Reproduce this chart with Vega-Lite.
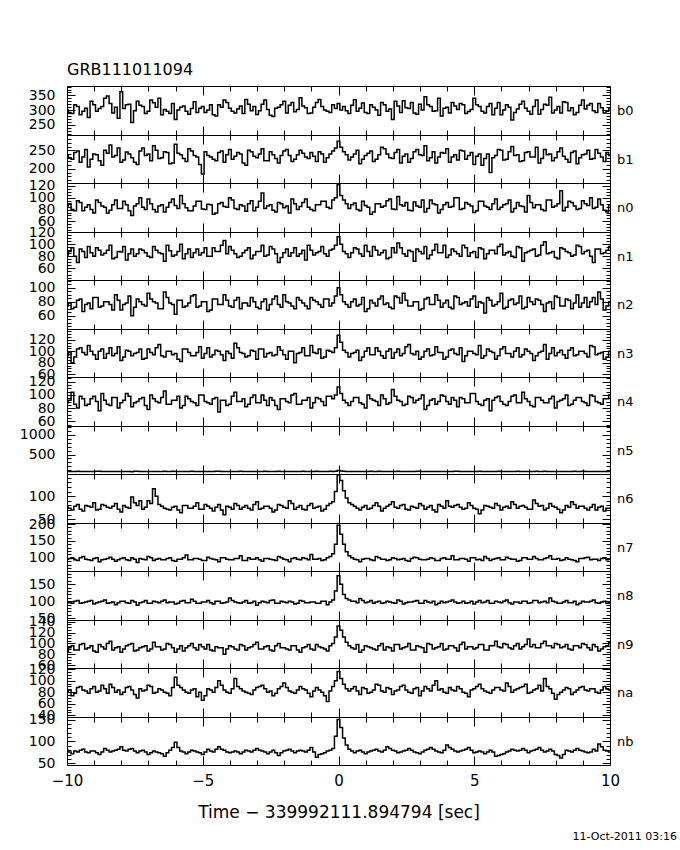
{
"$schema": "https://vega.github.io/schema/vega-lite/v6.json",
"padding": {"left": 18, "top": 61, "right": 0, "bottom": 0},
"data": {"values": [
{"t":-10,"b0":300,"b1":238,"n0":86,"n1":82,"n2":74,"n3":92,"n4":88,"n5":72,"n6":76,"n7":96,"n8":98,"n9":84,"na":80,"nb":80},
{"t":-9.8,"b0":288,"b1":226,"n0":80,"n1":94,"n2":70,"n3":80,"n4":104,"n5":70,"n6":70,"n7":100,"n8":94,"n9":96,"na":74,"nb":72},
{"t":-9.6,"b0":312,"b1":248,"n0":95,"n1":70,"n2":82,"n3":104,"n4":80,"n5":75,"n6":82,"n7":92,"n8":102,"n9":88,"na":88,"nb":76},
{"t":-9.4,"b0":296,"b1":232,"n0":78,"n1":88,"n2":66,"n3":98,"n4":94,"n5":68,"n6":68,"n7":104,"n8":96,"n9":100,"na":84,"nb":82},
{"t":-9.2,"b0":275,"b1":205,"n0":88,"n1":96,"n2":78,"n3":110,"n4":86,"n5":73,"n6":78,"n7":94,"n8":100,"n9":92,"na":78,"nb":74},
{"t":-9,"b0":318,"b1":240,"n0":74,"n1":80,"n2":86,"n3":94,"n4":98,"n5":71,"n6":86,"n7":98,"n8":92,"n9":86,"na":90,"nb":78},
{"t":-8.8,"b0":305,"b1":222,"n0":92,"n1":90,"n2":72,"n3":100,"n4":76,"n5":76,"n6":72,"n7":88,"n8":98,"n9":98,"na":82,"nb":70},
{"t":-8.6,"b0":340,"b1":250,"n0":84,"n1":85,"n2":80,"n3":88,"n4":92,"n5":69,"n6":80,"n7":96,"n8":104,"n9":90,"na":86,"nb":84},
{"t":-8.4,"b0":322,"b1":264,"n0":79,"n1":98,"n2":76,"n3":106,"n4":84,"n5":72,"n6":74,"n7":102,"n8":96,"n9":104,"na":94,"nb":76},
{"t":-8.2,"b0":310,"b1":236,"n0":96,"n1":78,"n2":90,"n3":96,"n4":96,"n5":74,"n6":84,"n7":90,"n8":90,"n9":92,"na":80,"nb":80},
{"t":-8,"b0":362,"b1":218,"n0":82,"n1":87,"n2":68,"n3":84,"n4":88,"n5":70,"n6":66,"n7":98,"n8":100,"n9":84,"na":76,"nb":88},
{"t":-7.8,"b0":318,"b1":245,"n0":88,"n1":74,"n2":78,"n3":102,"n4":102,"n5":73,"n6":76,"n7":94,"n8":96,"n9":96,"na":88,"nb":78},
{"t":-7.6,"b0":258,"b1":230,"n0":70,"n1":92,"n2":60,"n3":92,"n4":82,"n5":67,"n6":98,"n7":100,"n8":102,"n9":100,"na":84,"nb":84},
{"t":-7.4,"b0":330,"b1":212,"n0":90,"n1":84,"n2":84,"n3":98,"n4":90,"n5":75,"n6":80,"n7":86,"n8":88,"n9":88,"na":70,"nb":74},
{"t":-7.2,"b0":312,"b1":256,"n0":84,"n1":90,"n2":76,"n3":86,"n4":96,"n5":71,"n6":72,"n7":96,"n8":98,"n9":94,"na":82,"nb":80},
{"t":-7,"b0":296,"b1":240,"n0":98,"n1":80,"n2":92,"n3":104,"n4":78,"n5":72,"n6":90,"n7":104,"n8":94,"n9":86,"na":92,"nb":70},
{"t":-6.8,"b0":325,"b1":262,"n0":80,"n1":96,"n2":80,"n3":94,"n4":94,"n5":74,"n6":116,"n7":92,"n8":100,"n9":102,"na":78,"nb":78},
{"t":-6.6,"b0":340,"b1":228,"n0":86,"n1":86,"n2":70,"n3":112,"n4":88,"n5":69,"n6":82,"n7":98,"n8":96,"n9":94,"na":86,"nb":74},
{"t":-6.4,"b0":302,"b1":246,"n0":76,"n1":72,"n2":94,"n3":90,"n4":106,"n5":76,"n6":74,"n7":94,"n8":104,"n9":90,"na":80,"nb":66},
{"t":-6.2,"b0":288,"b1":214,"n0":92,"n1":89,"n2":78,"n3":100,"n4":86,"n5":70,"n6":70,"n7":100,"n8":98,"n9":98,"na":74,"nb":80},
{"t":-6,"b0":268,"b1":266,"n0":87,"n1":82,"n2":62,"n3":96,"n4":92,"n5":72,"n6":78,"n7":90,"n8":92,"n9":84,"na":106,"nb":98},
{"t":-5.8,"b0":310,"b1":238,"n0":104,"n1":100,"n2":82,"n3":82,"n4":80,"n5":73,"n6":64,"n7":96,"n8":100,"n9":96,"na":88,"nb":78},
{"t":-5.6,"b0":296,"b1":220,"n0":83,"n1":84,"n2":74,"n3":104,"n4":98,"n5":68,"n6":80,"n7":108,"n8":96,"n9":92,"na":80,"nb":72},
{"t":-5.4,"b0":305,"b1":248,"n0":78,"n1":78,"n2":88,"n3":92,"n4":90,"n5":75,"n6":74,"n7":94,"n8":106,"n9":100,"na":84,"nb":80},
{"t":-5.2,"b0":292,"b1":232,"n0":94,"n1":92,"n2":72,"n3":98,"n4":84,"n5":71,"n6":86,"n7":98,"n8":94,"n9":88,"na":72,"nb":76},
{"t":-5,"b0":312,"b1":186,"n0":81,"n1":86,"n2":80,"n3":88,"n4":100,"n5":74,"n6":72,"n7":92,"n8":98,"n9":94,"na":66,"nb":70},
{"t":-4.8,"b0":300,"b1":236,"n0":89,"n1":80,"n2":66,"n3":106,"n4":88,"n5":70,"n6":78,"n7":102,"n8":102,"n9":98,"na":86,"nb":82},
{"t":-4.6,"b0":284,"b1":226,"n0":72,"n1":94,"n2":84,"n3":94,"n4":94,"n5":72,"n6":68,"n7":96,"n8":92,"n9":86,"na":80,"nb":76},
{"t":-4.4,"b0":318,"b1":244,"n0":90,"n1":88,"n2":76,"n3":100,"n4":74,"n5":77,"n6":82,"n7":88,"n8":100,"n9":92,"na":100,"nb":88},
{"t":-4.2,"b0":334,"b1":218,"n0":85,"n1":106,"n2":90,"n3":84,"n4":92,"n5":69,"n6":60,"n7":100,"n8":96,"n9":80,"na":84,"nb":80},
{"t":-4,"b0":306,"b1":252,"n0":100,"n1":96,"n2":74,"n3":96,"n4":86,"n5":73,"n6":76,"n7":94,"n8":110,"n9":96,"na":78,"nb":74},
{"t":-3.8,"b0":290,"b1":234,"n0":82,"n1":84,"n2":82,"n3":114,"n4":104,"n5":71,"n6":84,"n7":98,"n8":98,"n9":90,"na":104,"nb":78},
{"t":-3.6,"b0":314,"b1":240,"n0":88,"n1":80,"n2":70,"n3":98,"n4":90,"n5":75,"n6":72,"n7":106,"n8":94,"n9":98,"na":86,"nb":72},
{"t":-3.4,"b0":336,"b1":210,"n0":77,"n1":90,"n2":78,"n3":90,"n4":82,"n5":68,"n6":80,"n7":92,"n8":102,"n9":88,"na":80,"nb":80},
{"t":-3.2,"b0":298,"b1":246,"n0":95,"n1":76,"n2":86,"n3":102,"n4":96,"n5":72,"n6":70,"n7":96,"n8":96,"n9":94,"na":76,"nb":76},
{"t":-3,"b0":285,"b1":230,"n0":84,"n1":88,"n2":72,"n3":86,"n4":88,"n5":74,"n6":88,"n7":100,"n8":88,"n9":102,"na":88,"nb":84},
{"t":-2.8,"b0":320,"b1":254,"n0":108,"n1":98,"n2":80,"n3":104,"n4":100,"n5":70,"n6":74,"n7":90,"n8":100,"n9":90,"na":92,"nb":78},
{"t":-2.6,"b0":302,"b1":222,"n0":86,"n1":82,"n2":68,"n3":96,"n4":84,"n5":73,"n6":78,"n7":98,"n8":96,"n9":96,"na":80,"nb":72},
{"t":-2.4,"b0":278,"b1":238,"n0":79,"n1":92,"n2":84,"n3":92,"n4":92,"n5":71,"n6":66,"n7":94,"n8":104,"n9":86,"na":74,"nb":80},
{"t":-2.2,"b0":310,"b1":216,"n0":92,"n1":70,"n2":76,"n3":108,"n4":78,"n5":76,"n6":82,"n7":104,"n8":94,"n9":100,"na":86,"nb":68},
{"t":-2,"b0":330,"b1":248,"n0":83,"n1":86,"n2":90,"n3":94,"n4":94,"n5":69,"n6":76,"n7":96,"n8":98,"n9":92,"na":96,"nb":78},
{"t":-1.8,"b0":316,"b1":236,"n0":74,"n1":80,"n2":78,"n3":100,"n4":88,"n5":72,"n6":90,"n7":88,"n8":100,"n9":88,"na":82,"nb":82},
{"t":-1.6,"b0":294,"b1":226,"n0":90,"n1":94,"n2":70,"n3":80,"n4":102,"n5":74,"n6":72,"n7":100,"n8":92,"n9":96,"na":78,"nb":74},
{"t":-1.4,"b0":342,"b1":250,"n0":85,"n1":84,"n2":82,"n3":98,"n4":86,"n5":70,"n6":80,"n7":94,"n8":102,"n9":84,"na":90,"nb":80},
{"t":-1.2,"b0":308,"b1":232,"n0":98,"n1":74,"n2":74,"n3":92,"n4":92,"n5":73,"n6":70,"n7":98,"n8":96,"n9":94,"na":84,"nb":76},
{"t":-1,"b0":290,"b1":244,"n0":80,"n1":90,"n2":86,"n3":110,"n4":80,"n5":68,"n6":84,"n7":110,"n8":98,"n9":90,"na":72,"nb":86},
{"t":-0.8,"b0":326,"b1":220,"n0":88,"n1":86,"n2":80,"n3":96,"n4":96,"n5":75,"n6":76,"n7":96,"n8":94,"n9":98,"na":88,"nb":64},
{"t":-0.6,"b0":312,"b1":240,"n0":94,"n1":96,"n2":72,"n3":88,"n4":90,"n5":71,"n6":68,"n7":92,"n8":100,"n9":92,"na":80,"nb":72},
{"t":-0.4,"b0":296,"b1":230,"n0":84,"n1":80,"n2":84,"n3":102,"n4":98,"n5":72,"n6":80,"n7":100,"n8":90,"n9":86,"na":64,"nb":78},
{"t":-0.2,"b0":318,"b1":248,"n0":96,"n1":92,"n2":78,"n3":98,"n4":94,"n5":74,"n6":88,"n7":112,"n8":104,"n9":100,"na":90,"nb":84},
{"t":-0.1,"b0":305,"b1":256,"n0":100,"n1":98,"n2":88,"n3":106,"n4":100,"n5":78,"n6":110,"n7":140,"n8":130,"n9":112,"na":100,"nb":112},
{"t":0,"b0":322,"b1":274,"n0":122,"n1":112,"n2":100,"n3":128,"n4":112,"n5":96,"n6":146,"n7":196,"n8":175,"n9":132,"na":116,"nb":150},
{"t":0.1,"b0":300,"b1":258,"n0":104,"n1":100,"n2":90,"n3":116,"n4":102,"n5":84,"n6":134,"n7":170,"n8":150,"n9":124,"na":104,"nb":132},
{"t":0.2,"b0":312,"b1":246,"n0":96,"n1":88,"n2":80,"n3":102,"n4":92,"n5":78,"n6":112,"n7":140,"n8":120,"n9":112,"na":94,"nb":108},
{"t":0.3,"b0":298,"b1":238,"n0":90,"n1":84,"n2":76,"n3":98,"n4":88,"n5":74,"n6":96,"n7":118,"n8":108,"n9":102,"na":86,"nb":92},
{"t":0.4,"b0":288,"b1":224,"n0":82,"n1":78,"n2":72,"n3":90,"n4":84,"n5":74,"n6":86,"n7":106,"n8":104,"n9":96,"na":82,"nb":82},
{"t":0.6,"b0":335,"b1":240,"n0":91,"n1":94,"n2":84,"n3":98,"n4":96,"n5":71,"n6":78,"n7":96,"n8":100,"n9":90,"na":90,"nb":74},
{"t":0.8,"b0":306,"b1":214,"n0":78,"n1":84,"n2":76,"n3":84,"n4":88,"n5":73,"n6":70,"n7":88,"n8":108,"n9":84,"na":76,"nb":80},
{"t":1,"b0":292,"b1":236,"n0":87,"n1":98,"n2":66,"n3":100,"n4":80,"n5":69,"n6":80,"n7":98,"n8":96,"n9":96,"na":86,"nb":72},
{"t":1.2,"b0":318,"b1":248,"n0":72,"n1":80,"n2":82,"n3":94,"n4":94,"n5":75,"n6":74,"n7":94,"n8":102,"n9":92,"na":80,"nb":78},
{"t":1.4,"b0":300,"b1":226,"n0":90,"n1":90,"n2":74,"n3":106,"n4":90,"n5":72,"n6":86,"n7":104,"n8":98,"n9":88,"na":94,"nb":82},
{"t":1.6,"b0":326,"b1":258,"n0":84,"n1":86,"n2":88,"n3":92,"n4":100,"n5":70,"n6":68,"n7":96,"n8":94,"n9":100,"na":82,"nb":76},
{"t":1.8,"b0":296,"b1":240,"n0":95,"n1":76,"n2":78,"n3":100,"n4":86,"n5":74,"n6":78,"n7":92,"n8":100,"n9":94,"na":88,"nb":88},
{"t":2,"b0":268,"b1":228,"n0":81,"n1":94,"n2":70,"n3":88,"n4":108,"n5":71,"n6":88,"n7":100,"n8":96,"n9":86,"na":76,"nb":80},
{"t":2.2,"b0":314,"b1":252,"n0":102,"n1":102,"n2":86,"n3":104,"n4":92,"n5":76,"n6":74,"n7":94,"n8":104,"n9":98,"na":84,"nb":74},
{"t":2.4,"b0":332,"b1":234,"n0":86,"n1":84,"n2":92,"n3":96,"n4":84,"n5":68,"n6":82,"n7":98,"n8":92,"n9":92,"na":92,"nb":78},
{"t":2.6,"b0":305,"b1":218,"n0":79,"n1":90,"n2":74,"n3":112,"n4":98,"n5":73,"n6":70,"n7":90,"n8":98,"n9":100,"na":80,"nb":84},
{"t":2.8,"b0":290,"b1":246,"n0":93,"n1":72,"n2":80,"n3":94,"n4":88,"n5":72,"n6":76,"n7":102,"n8":100,"n9":88,"na":86,"nb":76},
{"t":3,"b0":320,"b1":238,"n0":84,"n1":88,"n2":68,"n3":86,"n4":94,"n5":75,"n6":84,"n7":96,"n8":94,"n9":94,"na":74,"nb":72},
{"t":3.2,"b0":345,"b1":262,"n0":76,"n1":96,"n2":84,"n3":100,"n4":78,"n5":70,"n6":72,"n7":94,"n8":102,"n9":84,"na":90,"nb":80},
{"t":3.4,"b0":312,"b1":230,"n0":96,"n1":82,"n2":76,"n3":92,"n4":92,"n5":73,"n6":80,"n7":100,"n8":96,"n9":98,"na":82,"nb":86},
{"t":3.6,"b0":298,"b1":216,"n0":88,"n1":100,"n2":90,"n3":108,"n4":86,"n5":71,"n6":66,"n7":92,"n8":90,"n9":92,"na":100,"nb":78},
{"t":3.8,"b0":280,"b1":244,"n0":80,"n1":86,"n2":72,"n3":98,"n4":100,"n5":74,"n6":78,"n7":98,"n8":100,"n9":100,"na":86,"nb":74},
{"t":4,"b0":310,"b1":254,"n0":92,"n1":78,"n2":82,"n3":90,"n4":90,"n5":69,"n6":90,"n7":96,"n8":98,"n9":90,"na":78,"nb":92},
{"t":4.2,"b0":326,"b1":232,"n0":85,"n1":92,"n2":70,"n3":104,"n4":96,"n5":72,"n6":76,"n7":106,"n8":104,"n9":96,"na":84,"nb":82},
{"t":4.4,"b0":302,"b1":224,"n0":100,"n1":84,"n2":86,"n3":94,"n4":82,"n5":76,"n6":82,"n7":94,"n8":94,"n9":86,"na":90,"nb":76},
{"t":4.6,"b0":318,"b1":248,"n0":82,"n1":98,"n2":78,"n3":82,"n4":94,"n5":70,"n6":72,"n7":98,"n8":100,"n9":102,"na":80,"nb":80},
{"t":4.8,"b0":295,"b1":236,"n0":89,"n1":80,"n2":74,"n3":100,"n4":88,"n5":73,"n6":86,"n7":90,"n8":96,"n9":94,"na":72,"nb":86},
{"t":5,"b0":340,"b1":212,"n0":75,"n1":88,"n2":88,"n3":96,"n4":102,"n5":71,"n6":74,"n7":100,"n8":92,"n9":90,"na":86,"nb":74},
{"t":5.2,"b0":312,"b1":240,"n0":94,"n1":94,"n2":80,"n3":110,"n4":86,"n5":75,"n6":62,"n7":96,"n8":102,"n9":98,"na":94,"nb":78},
{"t":5.4,"b0":290,"b1":228,"n0":86,"n1":76,"n2":64,"n3":92,"n4":92,"n5":68,"n6":80,"n7":104,"n8":98,"n9":88,"na":82,"nb":72},
{"t":5.6,"b0":322,"b1":190,"n0":80,"n1":90,"n2":82,"n3":100,"n4":76,"n5":72,"n6":76,"n7":92,"n8":94,"n9":96,"na":78,"nb":80},
{"t":5.8,"b0":306,"b1":236,"n0":98,"n1":84,"n2":76,"n3":86,"n4":96,"n5":74,"n6":84,"n7":98,"n8":100,"n9":104,"na":88,"nb":66},
{"t":6,"b0":284,"b1":250,"n0":84,"n1":100,"n2":92,"n3":104,"n4":90,"n5":70,"n6":70,"n7":94,"n8":96,"n9":92,"na":84,"nb":70},
{"t":6.2,"b0":318,"b1":226,"n0":90,"n1":86,"n2":72,"n3":96,"n4":84,"n5":73,"n6":78,"n7":102,"n8":104,"n9":98,"na":96,"nb":76},
{"t":6.4,"b0":266,"b1":260,"n0":76,"n1":80,"n2":84,"n3":90,"n4":98,"n5":71,"n6":88,"n7":96,"n8":92,"n9":90,"na":80,"nb":82},
{"t":6.6,"b0":304,"b1":238,"n0":92,"n1":96,"n2":78,"n3":106,"n4":88,"n5":75,"n6":74,"n7":90,"n8":98,"n9":100,"na":86,"nb":78},
{"t":6.8,"b0":330,"b1":222,"n0":85,"n1":72,"n2":70,"n3":94,"n4":104,"n5":69,"n6":80,"n7":100,"n8":100,"n9":94,"na":90,"nb":84},
{"t":7,"b0":296,"b1":246,"n0":104,"n1":88,"n2":86,"n3":100,"n4":90,"n5":72,"n6":72,"n7":96,"n8":94,"n9":108,"na":78,"nb":74},
{"t":7.2,"b0":312,"b1":232,"n0":83,"n1":92,"n2":76,"n3":84,"n4":82,"n5":74,"n6":92,"n7":104,"n8":102,"n9":98,"na":84,"nb":80},
{"t":7.4,"b0":286,"b1":216,"n0":88,"n1":82,"n2":82,"n3":98,"n4":96,"n5":70,"n6":78,"n7":94,"n8":96,"n9":92,"na":92,"nb":86},
{"t":7.6,"b0":320,"b1":252,"n0":78,"n1":104,"n2":66,"n3":112,"n4":88,"n5":76,"n6":70,"n7":98,"n8":100,"n9":104,"na":104,"nb":76},
{"t":7.8,"b0":344,"b1":240,"n0":96,"n1":86,"n2":80,"n3":96,"n4":94,"n5":71,"n6":84,"n7":106,"n8":110,"n9":96,"na":86,"nb":82},
{"t":8,"b0":300,"b1":230,"n0":86,"n1":78,"n2":88,"n3":92,"n4":80,"n5":73,"n6":76,"n7":96,"n8":98,"n9":100,"na":68,"nb":70},
{"t":8.2,"b0":290,"b1":256,"n0":112,"n1":94,"n2":74,"n3":102,"n4":92,"n5":69,"n6":64,"n7":92,"n8":94,"n9":92,"na":80,"nb":62},
{"t":8.4,"b0":326,"b1":226,"n0":84,"n1":88,"n2":84,"n3":88,"n4":100,"n5":74,"n6":80,"n7":100,"n8":102,"n9":98,"na":88,"nb":80},
{"t":8.6,"b0":308,"b1":244,"n0":92,"n1":80,"n2":70,"n3":106,"n4":86,"n5":72,"n6":88,"n7":94,"n8":96,"n9":88,"na":76,"nb":76},
{"t":8.8,"b0":292,"b1":214,"n0":80,"n1":98,"n2":90,"n3":94,"n4":96,"n5":70,"n6":74,"n7":88,"n8":90,"n9":96,"na":84,"nb":84},
{"t":9,"b0":334,"b1":238,"n0":95,"n1":84,"n2":78,"n3":100,"n4":90,"n5":75,"n6":78,"n7":98,"n8":100,"n9":100,"na":90,"nb":78},
{"t":9.2,"b0":316,"b1":250,"n0":87,"n1":90,"n2":72,"n3":90,"n4":84,"n5":71,"n6":70,"n7":102,"n8":98,"n9":92,"na":82,"nb":74},
{"t":9.4,"b0":298,"b1":228,"n0":82,"n1":70,"n2":86,"n3":108,"n4":98,"n5":73,"n6":82,"n7":96,"n8":104,"n9":98,"na":86,"nb":82},
{"t":9.6,"b0":322,"b1":242,"n0":98,"n1":92,"n2":94,"n3":96,"n4":88,"n5":68,"n6":76,"n7":92,"n8":94,"n9":86,"na":78,"nb":94},
{"t":9.8,"b0":290,"b1":220,"n0":79,"n1":86,"n2":68,"n3":86,"n4":94,"n5":74,"n6":68,"n7":100,"n8":100,"n9":94,"na":90,"nb":80},
{"t":10,"b0":305,"b1":236,"n0":88,"n1":96,"n2":80,"n3":100,"n4":100,"n5":72,"n6":74,"n7":96,"n8":96,"n9":102,"na":84,"nb":76},
{"t":-9.9,"b0":292,"b1":230,"n0":90,"n1":88,"n2":78,"n3":98,"n4":92,"n5":71,"n6":74,"n7":98,"n8":96,"n9":92,"na":84,"nb":76},
{"t":-9.7,"b0":318,"b1":244,"n0":78,"n1":80,"n2":72,"n3":90,"n4":86,"n5":74,"n6":78,"n7":94,"n8":100,"n9":88,"na":78,"nb":78},
{"t":-9.5,"b0":284,"b1":218,"n0":92,"n1":92,"n2":84,"n3":106,"n4":98,"n5":69,"n6":72,"n7":100,"n8":94,"n9":98,"na":90,"nb":80},
{"t":-9.3,"b0":306,"b1":252,"n0":84,"n1":78,"n2":76,"n3":94,"n4":84,"n5":73,"n6":80,"n7":96,"n8":98,"n9":90,"na":82,"nb":76},
{"t":-9.1,"b0":330,"b1":226,"n0":80,"n1":86,"n2":70,"n3":100,"n4":94,"n5":72,"n6":76,"n7":92,"n8":102,"n9":96,"na":86,"nb":78},
{"t":-8.9,"b0":296,"b1":238,"n0":96,"n1":94,"n2":86,"n3":86,"n4":90,"n5":75,"n6":70,"n7":100,"n8":96,"n9":84,"na":80,"nb":74},
{"t":-8.7,"b0":312,"b1":210,"n0":86,"n1":82,"n2":74,"n3":104,"n4":102,"n5":70,"n6":82,"n7":94,"n8":100,"n9":94,"na":92,"nb":76},
{"t":-8.5,"b0":348,"b1":242,"n0":74,"n1":90,"n2":80,"n3":96,"n4":86,"n5":72,"n6":76,"n7":98,"n8":94,"n9":100,"na":78,"nb":80},
{"t":-8.3,"b0":290,"b1":232,"n0":88,"n1":76,"n2":68,"n3":92,"n4":96,"n5":74,"n6":78,"n7":96,"n8":98,"n9":88,"na":88,"nb":78},
{"t":-8.1,"b0":272,"b1":256,"n0":82,"n1":88,"n2":82,"n3":108,"n4":80,"n5":68,"n6":72,"n7":94,"n8":96,"n9":94,"na":84,"nb":82},
{"t":-7.9,"b0":305,"b1":224,"n0":94,"n1":96,"n2":76,"n3":90,"n4":92,"n5":73,"n6":80,"n7":100,"n8":100,"n9":90,"na":80,"nb":80},
{"t":-7.7,"b0":320,"b1":240,"n0":78,"n1":84,"n2":88,"n3":100,"n4":98,"n5":71,"n6":74,"n7":92,"n8":94,"n9":98,"na":90,"nb":82},
{"t":-7.5,"b0":298,"b1":218,"n0":86,"n1":80,"n2":72,"n3":96,"n4":88,"n5":75,"n6":86,"n7":96,"n8":98,"n9":86,"na":76,"nb":78},
{"t":-7.3,"b0":316,"b1":248,"n0":100,"n1":92,"n2":80,"n3":104,"n4":94,"n5":70,"n6":90,"n7":98,"n8":96,"n9":92,"na":86,"nb":78},
{"t":-7.1,"b0":288,"b1":236,"n0":80,"n1":86,"n2":74,"n3":88,"n4":84,"n5":72,"n6":76,"n7":94,"n8":102,"n9":96,"na":84,"nb":76},
{"t":-6.9,"b0":334,"b1":222,"n0":90,"n1":78,"n2":84,"n3":98,"n4":100,"n5":74,"n6":84,"n7":100,"n8":94,"n9":90,"na":90,"nb":74},
{"t":-6.7,"b0":310,"b1":250,"n0":76,"n1":90,"n2":78,"n3":106,"n4":90,"n5":69,"n6":100,"n7":96,"n8":98,"n9":94,"na":80,"nb":76},
{"t":-6.5,"b0":284,"b1":230,"n0":88,"n1":84,"n2":70,"n3":92,"n4":96,"n5":73,"n6":78,"n7":94,"n8":100,"n9":88,"na":84,"nb":72},
{"t":-6.3,"b0":296,"b1":244,"n0":84,"n1":98,"n2":86,"n3":100,"n4":86,"n5":71,"n6":72,"n7":98,"n8":96,"n9":100,"na":78,"nb":74},
{"t":-6.1,"b0":322,"b1":216,"n0":98,"n1":80,"n2":76,"n3":94,"n4":92,"n5":75,"n6":76,"n7":92,"n8":98,"n9":92,"na":88,"nb":86},
{"t":-5.9,"b0":300,"b1":242,"n0":82,"n1":88,"n2":82,"n3":86,"n4":98,"n5":70,"n6":70,"n7":96,"n8":94,"n9":90,"na":92,"nb":86},
{"t":-5.7,"b0":314,"b1":228,"n0":90,"n1":76,"n2":72,"n3":104,"n4":84,"n5":72,"n6":80,"n7":100,"n8":102,"n9":86,"na":84,"nb":76},
{"t":-5.5,"b0":286,"b1":254,"n0":78,"n1":92,"n2":78,"n3":98,"n4":94,"n5":74,"n6":74,"n7":94,"n8":96,"n9":96,"na":78,"nb":76},
{"t":-5.3,"b0":328,"b1":236,"n0":86,"n1":86,"n2":90,"n3":92,"n4":88,"n5":69,"n6":78,"n7":98,"n8":100,"n9":92,"na":86,"nb":78},
{"t":-5.1,"b0":306,"b1":212,"n0":94,"n1":82,"n2":74,"n3":108,"n4":100,"n5":73,"n6":72,"n7":96,"n8":94,"n9":98,"na":80,"nb":74},
{"t":-4.9,"b0":292,"b1":246,"n0":80,"n1":94,"n2":80,"n3":96,"n4":90,"n5":71,"n6":82,"n7":92,"n8":98,"n9":90,"na":74,"nb":76},
{"t":-4.7,"b0":318,"b1":232,"n0":88,"n1":80,"n2":68,"n3":90,"n4":86,"n5":72,"n6":74,"n7":98,"n8":96,"n9":88,"na":84,"nb":78},
{"t":-4.5,"b0":280,"b1":222,"n0":74,"n1":88,"n2":84,"n3":102,"n4":96,"n5":75,"n6":76,"n7":94,"n8":100,"n9":94,"na":88,"nb":82},
{"t":-4.3,"b0":310,"b1":248,"n0":92,"n1":98,"n2":76,"n3":94,"n4":92,"n5":70,"n6":70,"n7":100,"n8":94,"n9":92,"na":92,"nb":82},
{"t":-4.1,"b0":326,"b1":238,"n0":84,"n1":84,"n2":82,"n3":100,"n4":84,"n5":73,"n6":78,"n7":96,"n8":98,"n9":90,"na":80,"nb":76},
{"t":-3.9,"b0":296,"b1":226,"n0":96,"n1":90,"n2":72,"n3":88,"n4":98,"n5":72,"n6":72,"n7":94,"n8":102,"n9":94,"na":86,"nb":76},
{"t":-3.7,"b0":304,"b1":244,"n0":80,"n1":78,"n2":86,"n3":106,"n4":90,"n5":69,"n6":80,"n7":98,"n8":96,"n9":88,"na":90,"nb":76},
{"t":-3.5,"b0":288,"b1":216,"n0":86,"n1":86,"n2":78,"n3":96,"n4":94,"n5":74,"n6":76,"n7":92,"n8":98,"n9":96,"na":82,"nb":76},
{"t":-3.3,"b0":320,"b1":250,"n0":90,"n1":94,"n2":74,"n3":92,"n4":86,"n5":71,"n6":74,"n7":100,"n8":94,"n9":92,"na":78,"nb":78},
{"t":-3.1,"b0":312,"b1":234,"n0":78,"n1":82,"n2":80,"n3":100,"n4":100,"n5":73,"n6":82,"n7":96,"n8":100,"n9":98,"na":84,"nb":80},
{"t":-2.9,"b0":298,"b1":240,"n0":94,"n1":88,"n2":70,"n3":104,"n4":88,"n5":70,"n6":72,"n7":94,"n8":96,"n9":90,"na":90,"nb":80},
{"t":-2.7,"b0":334,"b1":222,"n0":82,"n1":80,"n2":84,"n3":90,"n4":92,"n5":75,"n6":78,"n7":98,"n8":98,"n9":94,"na":86,"nb":76},
{"t":-2.5,"b0":282,"b1":246,"n0":88,"n1":96,"n2":76,"n3":98,"n4":96,"n5":72,"n6":74,"n7":96,"n8":102,"n9":88,"na":82,"nb":76},
{"t":-2.3,"b0":306,"b1":228,"n0":76,"n1":84,"n2":88,"n3":94,"n4":84,"n5":71,"n6":70,"n7":92,"n8":94,"n9":96,"na":78,"nb":74},
{"t":-2.1,"b0":318,"b1":236,"n0":90,"n1":78,"n2":72,"n3":102,"n4":94,"n5":74,"n6":80,"n7":100,"n8":100,"n9":92,"na":90,"nb":74},
{"t":-1.9,"b0":290,"b1":252,"n0":86,"n1":92,"n2":80,"n3":86,"n4":90,"n5":69,"n6":74,"n7":94,"n8":96,"n9":90,"na":88,"nb":80},
{"t":-1.7,"b0":326,"b1":220,"n0":98,"n1":86,"n2":74,"n3":100,"n4":100,"n5":73,"n6":84,"n7":98,"n8":98,"n9":96,"na":80,"nb":78},
{"t":-1.5,"b0":302,"b1":238,"n0":80,"n1":80,"n2":86,"n3":96,"n4":86,"n5":72,"n6":76,"n7":96,"n8":94,"n9":88,"na":84,"nb":78},
{"t":-1.3,"b0":314,"b1":242,"n0":92,"n1":90,"n2":78,"n3":106,"n4":92,"n5":75,"n6":72,"n7":100,"n8":100,"n9":92,"na":86,"nb":78},
{"t":-1.1,"b0":288,"b1":228,"n0":84,"n1":98,"n2":70,"n3":92,"n4":96,"n5":70,"n6":80,"n7":94,"n8":96,"n9":98,"na":78,"nb":80},
{"t":-0.9,"b0":310,"b1":234,"n0":78,"n1":82,"n2":82,"n3":98,"n4":88,"n5":72,"n6":74,"n7":96,"n8":98,"n9":88,"na":82,"nb":76},
{"t":-0.7,"b0":336,"b1":246,"n0":88,"n1":88,"n2":76,"n3":104,"n4":94,"n5":74,"n6":78,"n7":98,"n8":94,"n9":94,"na":84,"nb":70},
{"t":-0.5,"b0":300,"b1":218,"n0":94,"n1":84,"n2":84,"n3":90,"n4":84,"n5":71,"n6":72,"n7":94,"n8":100,"n9":90,"na":74,"nb":74},
{"t":-0.3,"b0":292,"b1":240,"n0":82,"n1":90,"n2":74,"n3":100,"n4":98,"n5":76,"n6":84,"n7":104,"n8":98,"n9":96,"na":82,"nb":80},
{"t":0.5,"b0":316,"b1":232,"n0":88,"n1":86,"n2":80,"n3":96,"n4":90,"n5":72,"n6":82,"n7":100,"n8":100,"n9":92,"na":86,"nb":78},
{"t":0.7,"b0":296,"b1":250,"n0":80,"n1":92,"n2":74,"n3":102,"n4":96,"n5":74,"n6":74,"n7":94,"n8":96,"n9":98,"na":82,"nb":78},
{"t":0.9,"b0":324,"b1":226,"n0":94,"n1":80,"n2":86,"n3":90,"n4":86,"n5":70,"n6":76,"n7":96,"n8":102,"n9":88,"na":88,"nb":76},
{"t":1.1,"b0":288,"b1":242,"n0":84,"n1":88,"n2":70,"n3":106,"n4":100,"n5":73,"n6":72,"n7":98,"n8":98,"n9":94,"na":78,"nb":76},
{"t":1.3,"b0":310,"b1":220,"n0":76,"n1":96,"n2":78,"n3":94,"n4":92,"n5":71,"n6":80,"n7":92,"n8":94,"n9":90,"na":84,"nb":80},
{"t":1.5,"b0":282,"b1":238,"n0":90,"n1":82,"n2":84,"n3":100,"n4":84,"n5":75,"n6":78,"n7":100,"n8":100,"n9":96,"na":92,"nb":78},
{"t":1.7,"b0":318,"b1":254,"n0":86,"n1":90,"n2":76,"n3":88,"n4":94,"n5":69,"n6":74,"n7":96,"n8":96,"n9":88,"na":80,"nb":80},
{"t":1.9,"b0":304,"b1":230,"n0":98,"n1":78,"n2":72,"n3":104,"n4":88,"n5":72,"n6":82,"n7":94,"n8":98,"n9":92,"na":86,"nb":84},
{"t":2.1,"b0":330,"b1":244,"n0":80,"n1":86,"n2":88,"n3":98,"n4":98,"n5":74,"n6":76,"n7":98,"n8":94,"n9":98,"na":82,"nb":78},
{"t":2.3,"b0":292,"b1":216,"n0":88,"n1":94,"n2":78,"n3":92,"n4":90,"n5":71,"n6":80,"n7":96,"n8":100,"n9":90,"na":90,"nb":76},
{"t":2.5,"b0":308,"b1":240,"n0":92,"n1":80,"n2":82,"n3":108,"n4":86,"n5":73,"n6":72,"n7":92,"n8":96,"n9":94,"na":84,"nb":80},
{"t":2.7,"b0":326,"b1":228,"n0":78,"n1":88,"n2":74,"n3":96,"n4":96,"n5":70,"n6":78,"n7":98,"n8":98,"n9":88,"na":78,"nb":80},
{"t":2.9,"b0":286,"b1":252,"n0":86,"n1":92,"n2":80,"n3":100,"n4":92,"n5":75,"n6":74,"n7":100,"n8":102,"n9":96,"na":88,"nb":74},
{"t":3.1,"b0":300,"b1":236,"n0":96,"n1":84,"n2":70,"n3":90,"n4":100,"n5":72,"n6":80,"n7":94,"n8":94,"n9":92,"na":82,"nb":76},
{"t":3.3,"b0":318,"b1":222,"n0":82,"n1":76,"n2":86,"n3":104,"n4":84,"n5":71,"n6":76,"n7":96,"n8":98,"n9":100,"na":86,"nb":82},
{"t":3.5,"b0":296,"b1":246,"n0":90,"n1":90,"n2":76,"n3":94,"n4":94,"n5":74,"n6":70,"n7":98,"n8":100,"n9":90,"na":92,"nb":82},
{"t":3.7,"b0":340,"b1":232,"n0":74,"n1":86,"n2":82,"n3":98,"n4":90,"n5":69,"n6":82,"n7":92,"n8":94,"n9":94,"na":84,"nb":76},
{"t":3.9,"b0":306,"b1":242,"n0":88,"n1":98,"n2":78,"n3":86,"n4":98,"n5":73,"n6":74,"n7":100,"n8":96,"n9":88,"na":80,"nb":80},
{"t":4.1,"b0":290,"b1":218,"n0":84,"n1":82,"n2":72,"n3":102,"n4":86,"n5":72,"n6":78,"n7":96,"n8":100,"n9":96,"na":88,"nb":86},
{"t":4.3,"b0":314,"b1":238,"n0":100,"n1":88,"n2":88,"n3":96,"n4":92,"n5":75,"n6":80,"n7":94,"n8":98,"n9":92,"na":82,"nb":78},
{"t":4.5,"b0":322,"b1":250,"n0":80,"n1":80,"n2":76,"n3":106,"n4":96,"n5":70,"n6":76,"n7":98,"n8":96,"n9":98,"na":86,"nb":78},
{"t":4.7,"b0":288,"b1":226,"n0":92,"n1":94,"n2":80,"n3":92,"n4":88,"n5":72,"n6":74,"n7":96,"n8":94,"n9":90,"na":78,"nb":82},
{"t":4.9,"b0":302,"b1":244,"n0":86,"n1":86,"n2":84,"n3":100,"n4":102,"n5":74,"n6":80,"n7":100,"n8":100,"n9":94,"na":84,"nb":80},
{"t":5.1,"b0":318,"b1":234,"n0":78,"n1":78,"n2":72,"n3":94,"n4":90,"n5":71,"n6":72,"n7":94,"n8":98,"n9":92,"na":90,"nb":76},
{"t":5.3,"b0":296,"b1":210,"n0":94,"n1":92,"n2":78,"n3":88,"n4":84,"n5":73,"n6":70,"n7":92,"n8":96,"n9":98,"na":86,"nb":76},
{"t":5.5,"b0":312,"b1":240,"n0":84,"n1":84,"n2":86,"n3":104,"n4":94,"n5":69,"n6":78,"n7":98,"n8":102,"n9":88,"na":80,"nb":76},
{"t":5.7,"b0":284,"b1":230,"n0":90,"n1":90,"n2":74,"n3":98,"n4":92,"n5":72,"n6":74,"n7":96,"n8":94,"n9":96,"na":84,"nb":76},
{"t":5.9,"b0":326,"b1":252,"n0":80,"n1":96,"n2":80,"n3":92,"n4":98,"n5":75,"n6":80,"n7":100,"n8":98,"n9":94,"na":88,"nb":68},
{"t":6.1,"b0":300,"b1":224,"n0":88,"n1":82,"n2":70,"n3":108,"n4":86,"n5":71,"n6":76,"n7":94,"n8":100,"n9":100,"na":82,"nb":72},
{"t":6.3,"b0":310,"b1":246,"n0":96,"n1":88,"n2":82,"n3":96,"n4":90,"n5":73,"n6":74,"n7":98,"n8":96,"n9":92,"na":90,"nb":78},
{"t":6.5,"b0":292,"b1":236,"n0":82,"n1":78,"n2":76,"n3":100,"n4":100,"n5":70,"n6":82,"n7":96,"n8":98,"n9":96,"na":84,"nb":80},
{"t":6.7,"b0":320,"b1":220,"n0":86,"n1":94,"n2":88,"n3":90,"n4":88,"n5":74,"n6":78,"n7":92,"n8":94,"n9":90,"na":88,"nb":80},
{"t":6.9,"b0":306,"b1":244,"n0":76,"n1":86,"n2":72,"n3":104,"n4":94,"n5":72,"n6":76,"n7":100,"n8":100,"n9":98,"na":94,"nb":80},
{"t":7.1,"b0":286,"b1":232,"n0":92,"n1":90,"n2":80,"n3":96,"n4":84,"n5":71,"n6":72,"n7":96,"n8":96,"n9":94,"na":80,"nb":78},
{"t":7.3,"b0":334,"b1":258,"n0":88,"n1":80,"n2":84,"n3":92,"n4":96,"n5":75,"n6":84,"n7":98,"n8":102,"n9":92,"na":86,"nb":82},
{"t":7.5,"b0":302,"b1":228,"n0":80,"n1":98,"n2":76,"n3":100,"n4":92,"n5":69,"n6":80,"n7":94,"n8":98,"n9":100,"na":82,"nb":80},
{"t":7.7,"b0":316,"b1":238,"n0":96,"n1":84,"n2":78,"n3":86,"n4":88,"n5":73,"n6":74,"n7":100,"n8":96,"n9":96,"na":90,"nb":78},
{"t":7.9,"b0":290,"b1":222,"n0":84,"n1":88,"n2":70,"n3":106,"n4":98,"n5":72,"n6":78,"n7":96,"n8":100,"n9":92,"na":78,"nb":78},
{"t":8.1,"b0":312,"b1":246,"n0":90,"n1":76,"n2":86,"n3":98,"n4":90,"n5":74,"n6":72,"n7":98,"n8":94,"n9":98,"na":76,"nb":68},
{"t":8.3,"b0":328,"b1":234,"n0":78,"n1":92,"n2":74,"n3":94,"n4":94,"n5":70,"n6":70,"n7":94,"n8":98,"n9":94,"na":84,"nb":70},
{"t":8.5,"b0":298,"b1":218,"n0":94,"n1":86,"n2":82,"n3":102,"n4":84,"n5":72,"n6":76,"n7":96,"n8":96,"n9":90,"na":86,"nb":78},
{"t":8.7,"b0":284,"b1":248,"n0":86,"n1":82,"n2":78,"n3":92,"n4":92,"n5":75,"n6":82,"n7":92,"n8":100,"n9":96,"na":80,"nb":80},
{"t":8.9,"b0":316,"b1":230,"n0":82,"n1":96,"n2":72,"n3":100,"n4":96,"n5":71,"n6":78,"n7":98,"n8":94,"n9":92,"na":88,"nb":80},
{"t":9.1,"b0":304,"b1":240,"n0":90,"n1":88,"n2":86,"n3":96,"n4":88,"n5":73,"n6":74,"n7":100,"n8":98,"n9":98,"na":84,"nb":76},
{"t":9.3,"b0":322,"b1":226,"n0":100,"n1":80,"n2":80,"n3":110,"n4":100,"n5":69,"n6":76,"n7":94,"n8":100,"n9":88,"na":86,"nb":76},
{"t":9.5,"b0":292,"b1":252,"n0":84,"n1":92,"n2":76,"n3":94,"n4":90,"n5":74,"n6":70,"n7":96,"n8":96,"n9":94,"na":80,"nb":78},
{"t":9.7,"b0":308,"b1":232,"n0":88,"n1":84,"n2":84,"n3":98,"n4":86,"n5":72,"n6":78,"n7":98,"n8":98,"n9":90,"na":84,"nb":88},
{"t":9.9,"b0":296,"b1":244,"n0":76,"n1":90,"n2":74,"n3":90,"n4":94,"n5":71,"n6":74,"n7":94,"n8":94,"n9":96,"na":86,"nb":78}
]},
"spacing": 0,
"bounds": "flush",
"vconcat": [
{"width":543,"height":49,
 "title":{"text":"GRB111011094","anchor":"start","frame":"group","fontSize":16,"offset":2},
 "layer":[
 {"mark":{"type":"line","clip":true},"encoding":{
  "x":{"field":"t","type":"quantitative","scale":{"domain":[-10,10],"nice":false},"axis":{"orient":"bottom","title":null,"labels":false,"tickCount":20,"tickSize":{"condition":{"test":"datum.value % 5 === 0","value":-9},"value":-5}}},
  "y":{"field":"b0","type":"quantitative","scale":{"domain":[215,382],"nice":false,"zero":false},"axis":{"orient":"left","title":null,"values":[220,230,240,250,260,270,280,290,300,310,320,330,340,350,360,370,380],"labelExpr":"datum.value % 50 === 0 ? datum.label : ''","tickSize":{"condition":{"test":"datum.value % 50 === 0","value":-8},"value":-4}}}}},
 {"mark":{"type":"line","opacity":0},"encoding":{
  "x":{"field":"t","type":"quantitative","scale":{"domain":[-10,10],"nice":false},"axis":{"orient":"top","title":null,"labels":false,"tickCount":20,"tickSize":{"condition":{"test":"datum.value % 5 === 0","value":-9},"value":-5}}},
  "y":{"field":"b0","type":"quantitative","scale":{"domain":[215,382],"nice":false,"zero":false},"axis":{"orient":"right","title":"b0","labels":false,"values":[220,230,240,250,260,270,280,290,300,310,320,330,340,350,360,370,380],"tickSize":{"condition":{"test":"datum.value % 50 === 0","value":-8},"value":-4}}}}}
 ],
 "resolve":{"axis":{"x":"independent","y":"independent"}}},
{"width":543,"height":48,
 "layer":[
 {"mark":{"type":"line","clip":true},"encoding":{
  "x":{"field":"t","type":"quantitative","scale":{"domain":[-10,10],"nice":false},"axis":{"orient":"bottom","title":null,"labels":false,"tickCount":20,"tickSize":{"condition":{"test":"datum.value % 5 === 0","value":-9},"value":-5}}},
  "y":{"field":"b1","type":"quantitative","scale":{"domain":[162,291],"nice":false,"zero":false},"axis":{"orient":"left","title":null,"values":[170,180,190,200,210,220,230,240,250,260,270,280,290],"labelExpr":"datum.value % 50 === 0 ? datum.label : ''","tickSize":{"condition":{"test":"datum.value % 50 === 0","value":-8},"value":-4}}}}},
 {"mark":{"type":"line","opacity":0},"encoding":{
  "x":{"field":"t","type":"quantitative","scale":{"domain":[-10,10],"nice":false},"axis":{"orient":"top","title":null,"labels":false,"tickCount":20,"tickSize":{"condition":{"test":"datum.value % 5 === 0","value":-9},"value":-5}}},
  "y":{"field":"b1","type":"quantitative","scale":{"domain":[162,291],"nice":false,"zero":false},"axis":{"orient":"right","title":"b1","labels":false,"values":[170,180,190,200,210,220,230,240,250,260,270,280,290],"tickSize":{"condition":{"test":"datum.value % 50 === 0","value":-8},"value":-4}}}}}
 ],
 "resolve":{"axis":{"x":"independent","y":"independent"}}},
{"width":543,"height":49,
 "layer":[
 {"mark":{"type":"line","clip":true},"encoding":{
  "x":{"field":"t","type":"quantitative","scale":{"domain":[-10,10],"nice":false},"axis":{"orient":"bottom","title":null,"labels":false,"tickCount":20,"tickSize":{"condition":{"test":"datum.value % 5 === 0","value":-9},"value":-5}}},
  "y":{"field":"n0","type":"quantitative","scale":{"domain":[42,125],"nice":false,"zero":false},"axis":{"orient":"left","title":null,"values":[45,50,55,60,65,70,75,80,85,90,95,100,105,110,115,120,125],"labelExpr":"datum.value % 20 === 0 ? datum.label : ''","tickSize":{"condition":{"test":"datum.value % 20 === 0","value":-8},"value":-4}}}}},
 {"mark":{"type":"line","opacity":0},"encoding":{
  "x":{"field":"t","type":"quantitative","scale":{"domain":[-10,10],"nice":false},"axis":{"orient":"top","title":null,"labels":false,"tickCount":20,"tickSize":{"condition":{"test":"datum.value % 5 === 0","value":-9},"value":-5}}},
  "y":{"field":"n0","type":"quantitative","scale":{"domain":[42,125],"nice":false,"zero":false},"axis":{"orient":"right","title":"n0","labels":false,"values":[45,50,55,60,65,70,75,80,85,90,95,100,105,110,115,120,125],"tickSize":{"condition":{"test":"datum.value % 20 === 0","value":-8},"value":-4}}}}}
 ],
 "resolve":{"axis":{"x":"independent","y":"independent"}}},
{"width":543,"height":48,
 "layer":[
 {"mark":{"type":"line","clip":true},"encoding":{
  "x":{"field":"t","type":"quantitative","scale":{"domain":[-10,10],"nice":false},"axis":{"orient":"bottom","title":null,"labels":false,"tickCount":20,"tickSize":{"condition":{"test":"datum.value % 5 === 0","value":-9},"value":-5}}},
  "y":{"field":"n1","type":"quantitative","scale":{"domain":[41,120],"nice":false,"zero":false},"axis":{"orient":"left","title":null,"values":[45,50,55,60,65,70,75,80,85,90,95,100,105,110,115,120],"labelExpr":"datum.value % 20 === 0 ? datum.label : ''","tickSize":{"condition":{"test":"datum.value % 20 === 0","value":-8},"value":-4}}}}},
 {"mark":{"type":"line","opacity":0},"encoding":{
  "x":{"field":"t","type":"quantitative","scale":{"domain":[-10,10],"nice":false},"axis":{"orient":"top","title":null,"labels":false,"tickCount":20,"tickSize":{"condition":{"test":"datum.value % 5 === 0","value":-9},"value":-5}}},
  "y":{"field":"n1","type":"quantitative","scale":{"domain":[41,120],"nice":false,"zero":false},"axis":{"orient":"right","title":"n1","labels":false,"values":[45,50,55,60,65,70,75,80,85,90,95,100,105,110,115,120],"tickSize":{"condition":{"test":"datum.value % 20 === 0","value":-8},"value":-4}}}}}
 ],
 "resolve":{"axis":{"x":"independent","y":"independent"}}},
{"width":543,"height":49,
 "layer":[
 {"mark":{"type":"line","clip":true},"encoding":{
  "x":{"field":"t","type":"quantitative","scale":{"domain":[-10,10],"nice":false},"axis":{"orient":"bottom","title":null,"labels":false,"tickCount":20,"tickSize":{"condition":{"test":"datum.value % 5 === 0","value":-9},"value":-5}}},
  "y":{"field":"n2","type":"quantitative","scale":{"domain":[41,111],"nice":false,"zero":false},"axis":{"orient":"left","title":null,"values":[45,50,55,60,65,70,75,80,85,90,95,100,105,110],"labelExpr":"datum.value % 20 === 0 ? datum.label : ''","tickSize":{"condition":{"test":"datum.value % 20 === 0","value":-8},"value":-4}}}}},
 {"mark":{"type":"line","opacity":0},"encoding":{
  "x":{"field":"t","type":"quantitative","scale":{"domain":[-10,10],"nice":false},"axis":{"orient":"top","title":null,"labels":false,"tickCount":20,"tickSize":{"condition":{"test":"datum.value % 5 === 0","value":-9},"value":-5}}},
  "y":{"field":"n2","type":"quantitative","scale":{"domain":[41,111],"nice":false,"zero":false},"axis":{"orient":"right","title":"n2","labels":false,"values":[45,50,55,60,65,70,75,80,85,90,95,100,105,110],"tickSize":{"condition":{"test":"datum.value % 20 === 0","value":-8},"value":-4}}}}}
 ],
 "resolve":{"axis":{"x":"independent","y":"independent"}}},
{"width":543,"height":48,
 "layer":[
 {"mark":{"type":"line","clip":true},"encoding":{
  "x":{"field":"t","type":"quantitative","scale":{"domain":[-10,10],"nice":false},"axis":{"orient":"bottom","title":null,"labels":false,"tickCount":20,"tickSize":{"condition":{"test":"datum.value % 5 === 0","value":-9},"value":-5}}},
  "y":{"field":"n3","type":"quantitative","scale":{"domain":[55,139],"nice":false,"zero":false},"axis":{"orient":"left","title":null,"values":[55,60,65,70,75,80,85,90,95,100,105,110,115,120,125,130,135],"labelExpr":"datum.value % 20 === 0 ? datum.label : ''","tickSize":{"condition":{"test":"datum.value % 20 === 0","value":-8},"value":-4}}}}},
 {"mark":{"type":"line","opacity":0},"encoding":{
  "x":{"field":"t","type":"quantitative","scale":{"domain":[-10,10],"nice":false},"axis":{"orient":"top","title":null,"labels":false,"tickCount":20,"tickSize":{"condition":{"test":"datum.value % 5 === 0","value":-9},"value":-5}}},
  "y":{"field":"n3","type":"quantitative","scale":{"domain":[55,139],"nice":false,"zero":false},"axis":{"orient":"right","title":"n3","labels":false,"values":[55,60,65,70,75,80,85,90,95,100,105,110,115,120,125,130,135],"tickSize":{"condition":{"test":"datum.value % 20 === 0","value":-8},"value":-4}}}}}
 ],
 "resolve":{"axis":{"x":"independent","y":"independent"}}},
{"width":543,"height":49,
 "layer":[
 {"mark":{"type":"line","clip":true},"encoding":{
  "x":{"field":"t","type":"quantitative","scale":{"domain":[-10,10],"nice":false},"axis":{"orient":"bottom","title":null,"labels":false,"tickCount":20,"tickSize":{"condition":{"test":"datum.value % 5 === 0","value":-9},"value":-5}}},
  "y":{"field":"n4","type":"quantitative","scale":{"domain":[53,127],"nice":false,"zero":false},"axis":{"orient":"left","title":null,"values":[55,60,65,70,75,80,85,90,95,100,105,110,115,120,125],"labelExpr":"datum.value % 20 === 0 ? datum.label : ''","tickSize":{"condition":{"test":"datum.value % 20 === 0","value":-8},"value":-4}}}}},
 {"mark":{"type":"line","opacity":0},"encoding":{
  "x":{"field":"t","type":"quantitative","scale":{"domain":[-10,10],"nice":false},"axis":{"orient":"top","title":null,"labels":false,"tickCount":20,"tickSize":{"condition":{"test":"datum.value % 5 === 0","value":-9},"value":-5}}},
  "y":{"field":"n4","type":"quantitative","scale":{"domain":[53,127],"nice":false,"zero":false},"axis":{"orient":"right","title":"n4","labels":false,"values":[55,60,65,70,75,80,85,90,95,100,105,110,115,120,125],"tickSize":{"condition":{"test":"datum.value % 20 === 0","value":-8},"value":-4}}}}}
 ],
 "resolve":{"axis":{"x":"independent","y":"independent"}}},
{"width":543,"height":48,
 "layer":[
 {"mark":{"type":"line","clip":true},"encoding":{
  "x":{"field":"t","type":"quantitative","scale":{"domain":[-10,10],"nice":false},"axis":{"orient":"bottom","title":null,"labels":false,"tickCount":20,"tickSize":{"condition":{"test":"datum.value % 5 === 0","value":-9},"value":-5}}},
  "y":{"field":"n5","type":"quantitative","scale":{"domain":[8,1220],"nice":false,"zero":false},"axis":{"orient":"left","title":null,"format":"d","values":[100,200,300,400,500,600,700,800,900,1000,1100,1200],"labelExpr":"datum.value % 500 === 0 ? datum.label : ''","tickSize":{"condition":{"test":"datum.value % 500 === 0","value":-8},"value":-4}}}}},
 {"mark":{"type":"line","opacity":0},"encoding":{
  "x":{"field":"t","type":"quantitative","scale":{"domain":[-10,10],"nice":false},"axis":{"orient":"top","title":null,"labels":false,"tickCount":20,"tickSize":{"condition":{"test":"datum.value % 5 === 0","value":-9},"value":-5}}},
  "y":{"field":"n5","type":"quantitative","scale":{"domain":[8,1220],"nice":false,"zero":false},"axis":{"orient":"right","title":"n5","labels":false,"values":[100,200,300,400,500,600,700,800,900,1000,1100,1200],"tickSize":{"condition":{"test":"datum.value % 500 === 0","value":-8},"value":-4}}}}}
 ],
 "resolve":{"axis":{"x":"independent","y":"independent"}}},
{"width":543,"height":49,
 "layer":[
 {"mark":{"type":"line","clip":true},"encoding":{
  "x":{"field":"t","type":"quantitative","scale":{"domain":[-10,10],"nice":false},"axis":{"orient":"bottom","title":null,"labels":false,"tickCount":20,"tickSize":{"condition":{"test":"datum.value % 5 === 0","value":-9},"value":-5}}},
  "y":{"field":"n6","type":"quantitative","scale":{"domain":[42,148],"nice":false,"zero":false},"axis":{"orient":"left","title":null,"values":[50,60,70,80,90,100,110,120,130,140],"labelExpr":"datum.value % 50 === 0 ? datum.label : ''","tickSize":{"condition":{"test":"datum.value % 50 === 0","value":-8},"value":-4}}}}},
 {"mark":{"type":"line","opacity":0},"encoding":{
  "x":{"field":"t","type":"quantitative","scale":{"domain":[-10,10],"nice":false},"axis":{"orient":"top","title":null,"labels":false,"tickCount":20,"tickSize":{"condition":{"test":"datum.value % 5 === 0","value":-9},"value":-5}}},
  "y":{"field":"n6","type":"quantitative","scale":{"domain":[42,148],"nice":false,"zero":false},"axis":{"orient":"right","title":"n6","labels":false,"values":[50,60,70,80,90,100,110,120,130,140],"tickSize":{"condition":{"test":"datum.value % 50 === 0","value":-8},"value":-4}}}}}
 ],
 "resolve":{"axis":{"x":"independent","y":"independent"}}},
{"width":543,"height":48,
 "layer":[
 {"mark":{"type":"line","clip":true},"encoding":{
  "x":{"field":"t","type":"quantitative","scale":{"domain":[-10,10],"nice":false},"axis":{"orient":"bottom","title":null,"labels":false,"tickCount":20,"tickSize":{"condition":{"test":"datum.value % 5 === 0","value":-9},"value":-5}}},
  "y":{"field":"n7","type":"quantitative","scale":{"domain":[61,203],"nice":false,"zero":false},"axis":{"orient":"left","title":null,"values":[70,80,90,100,110,120,130,140,150,160,170,180,190,200],"labelExpr":"datum.value % 50 === 0 ? datum.label : ''","tickSize":{"condition":{"test":"datum.value % 50 === 0","value":-8},"value":-4}}}}},
 {"mark":{"type":"line","opacity":0},"encoding":{
  "x":{"field":"t","type":"quantitative","scale":{"domain":[-10,10],"nice":false},"axis":{"orient":"top","title":null,"labels":false,"tickCount":20,"tickSize":{"condition":{"test":"datum.value % 5 === 0","value":-9},"value":-5}}},
  "y":{"field":"n7","type":"quantitative","scale":{"domain":[61,203],"nice":false,"zero":false},"axis":{"orient":"right","title":"n7","labels":false,"values":[70,80,90,100,110,120,130,140,150,160,170,180,190,200],"tickSize":{"condition":{"test":"datum.value % 50 === 0","value":-8},"value":-4}}}}}
 ],
 "resolve":{"axis":{"x":"independent","y":"independent"}}},
{"width":543,"height":49,
 "layer":[
 {"mark":{"type":"line","clip":true},"encoding":{
  "x":{"field":"t","type":"quantitative","scale":{"domain":[-10,10],"nice":false},"axis":{"orient":"bottom","title":null,"labels":false,"tickCount":20,"tickSize":{"condition":{"test":"datum.value % 5 === 0","value":-9},"value":-5}}},
  "y":{"field":"n8","type":"quantitative","scale":{"domain":[45,189],"nice":false,"zero":false},"axis":{"orient":"left","title":null,"values":[50,60,70,80,90,100,110,120,130,140,150,160,170,180],"labelExpr":"datum.value % 50 === 0 ? datum.label : ''","tickSize":{"condition":{"test":"datum.value % 50 === 0","value":-8},"value":-4}}}}},
 {"mark":{"type":"line","opacity":0},"encoding":{
  "x":{"field":"t","type":"quantitative","scale":{"domain":[-10,10],"nice":false},"axis":{"orient":"top","title":null,"labels":false,"tickCount":20,"tickSize":{"condition":{"test":"datum.value % 5 === 0","value":-9},"value":-5}}},
  "y":{"field":"n8","type":"quantitative","scale":{"domain":[45,189],"nice":false,"zero":false},"axis":{"orient":"right","title":"n8","labels":false,"values":[50,60,70,80,90,100,110,120,130,140,150,160,170,180],"tickSize":{"condition":{"test":"datum.value % 50 === 0","value":-8},"value":-4}}}}}
 ],
 "resolve":{"axis":{"x":"independent","y":"independent"}}},
{"width":543,"height":48,
 "layer":[
 {"mark":{"type":"line","clip":true},"encoding":{
  "x":{"field":"t","type":"quantitative","scale":{"domain":[-10,10],"nice":false},"axis":{"orient":"bottom","title":null,"labels":false,"tickCount":20,"tickSize":{"condition":{"test":"datum.value % 5 === 0","value":-9},"value":-5}}},
  "y":{"field":"n9","type":"quantitative","scale":{"domain":[55,143],"nice":false,"zero":false},"axis":{"orient":"left","title":null,"values":[55,60,65,70,75,80,85,90,95,100,105,110,115,120,125,130,135,140],"labelExpr":"datum.value % 20 === 0 ? datum.label : ''","tickSize":{"condition":{"test":"datum.value % 20 === 0","value":-8},"value":-4}}}}},
 {"mark":{"type":"line","opacity":0},"encoding":{
  "x":{"field":"t","type":"quantitative","scale":{"domain":[-10,10],"nice":false},"axis":{"orient":"top","title":null,"labels":false,"tickCount":20,"tickSize":{"condition":{"test":"datum.value % 5 === 0","value":-9},"value":-5}}},
  "y":{"field":"n9","type":"quantitative","scale":{"domain":[55,143],"nice":false,"zero":false},"axis":{"orient":"right","title":"n9","labels":false,"values":[55,60,65,70,75,80,85,90,95,100,105,110,115,120,125,130,135,140],"tickSize":{"condition":{"test":"datum.value % 20 === 0","value":-8},"value":-4}}}}}
 ],
 "resolve":{"axis":{"x":"independent","y":"independent"}}},
{"width":543,"height":49,
 "layer":[
 {"mark":{"type":"line","clip":true},"encoding":{
  "x":{"field":"t","type":"quantitative","scale":{"domain":[-10,10],"nice":false},"axis":{"orient":"bottom","title":null,"labels":false,"tickCount":20,"tickSize":{"condition":{"test":"datum.value % 5 === 0","value":-9},"value":-5}}},
  "y":{"field":"na","type":"quantitative","scale":{"domain":[37,122],"nice":false,"zero":false},"axis":{"orient":"left","title":null,"values":[40,45,50,55,60,65,70,75,80,85,90,95,100,105,110,115,120],"labelExpr":"datum.value % 20 === 0 ? datum.label : ''","tickSize":{"condition":{"test":"datum.value % 20 === 0","value":-8},"value":-4}}}}},
 {"mark":{"type":"line","opacity":0},"encoding":{
  "x":{"field":"t","type":"quantitative","scale":{"domain":[-10,10],"nice":false},"axis":{"orient":"top","title":null,"labels":false,"tickCount":20,"tickSize":{"condition":{"test":"datum.value % 5 === 0","value":-9},"value":-5}}},
  "y":{"field":"na","type":"quantitative","scale":{"domain":[37,122],"nice":false,"zero":false},"axis":{"orient":"right","title":"na","labels":false,"values":[40,45,50,55,60,65,70,75,80,85,90,95,100,105,110,115,120],"tickSize":{"condition":{"test":"datum.value % 20 === 0","value":-8},"value":-4}}}}}
 ],
 "resolve":{"axis":{"x":"independent","y":"independent"}}},
{"width":543,"height":48,
 "title":{"text":"11-Oct-2011 03:16","orient":"bottom","anchor":"end","frame":"group","fontSize":11,"dx":67,"offset":11},
 "layer":[
 {"mark":{"type":"line","clip":true},"encoding":{
  "x":{"field":"t","type":"quantitative","scale":{"domain":[-10,10],"nice":false},"axis":{"orient":"bottom","title":"Time − 339992111.894794 [sec]","labels":true,"labelExpr":"datum.value % 5 === 0 ? datum.label : ''","tickCount":20,"tickSize":{"condition":{"test":"datum.value % 5 === 0","value":-9},"value":-5}}},
  "y":{"field":"nb","type":"quantitative","scale":{"domain":[46,156],"nice":false,"zero":false},"axis":{"orient":"left","title":null,"values":[50,60,70,80,90,100,110,120,130,140,150],"labelExpr":"datum.value % 50 === 0 ? datum.label : ''","tickSize":{"condition":{"test":"datum.value % 50 === 0","value":-8},"value":-4}}}}},
 {"mark":{"type":"line","opacity":0},"encoding":{
  "x":{"field":"t","type":"quantitative","scale":{"domain":[-10,10],"nice":false},"axis":{"orient":"top","title":null,"labels":false,"tickCount":20,"tickSize":{"condition":{"test":"datum.value % 5 === 0","value":-9},"value":-5}}},
  "y":{"field":"nb","type":"quantitative","scale":{"domain":[46,156],"nice":false,"zero":false},"axis":{"orient":"right","title":"nb","labels":false,"values":[50,60,70,80,90,100,110,120,130,140,150],"tickSize":{"condition":{"test":"datum.value % 50 === 0","value":-8},"value":-4}}}}}
 ],
 "resolve":{"axis":{"x":"independent","y":"independent"}}}
],
"config": {
 "font": "DejaVu Sans",
 "background": "white",
 "view": {"stroke": "black", "strokeWidth": 1},
 "axis": {"domain": false, "grid": false, "tickColor": "black", "tickWidth": 1, "labelColor": "black", "labelFont": "DejaVu Sans", "labelFontSize": 14, "labelOverlap": false, "labelFlush": false, "labelPadding": 20, "titleColor": "black", "titleFont": "DejaVu Sans", "titleFontSize": 17, "titleFontWeight": "normal"},
 "axisBottom": {"labelFontSize": 15, "labelPadding": 17, "titlePadding": 12},
 "axisRight": {"titleAngle": 0, "titleAlign": "left", "titleBaseline": "middle", "titlePadding": 6, "titleFontSize": 13},
 "line": {"color": "black", "strokeWidth": 1.5, "interpolate": "step"},
 "title": {"font": "DejaVu Sans", "fontWeight": "normal", "color": "black"}
}
}
